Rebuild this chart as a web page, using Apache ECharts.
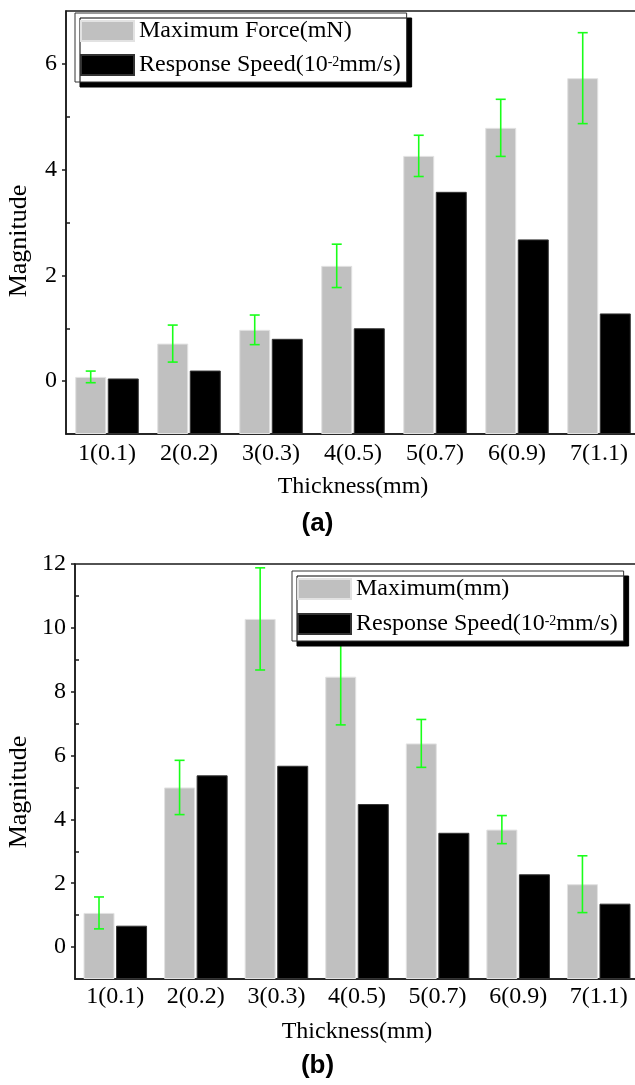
<!DOCTYPE html>
<html>
<head>
<meta charset="utf-8">
<script src="https://cdn.jsdelivr.net/npm/echarts@6.0.0/dist/echarts.min.js"></script>
<style>
  html, body { margin: 0; padding: 0; background: #fff; }
  #main { width: 635px; height: 1085px; }
</style>
</head>
<body>
<div id="main"></div>
<script>
// thickness groups, shared by both panels
var categories = ['1(0.1)', '2(0.2)', '3(0.3)', '4(0.5)', '5(0.7)', '6(0.9)', '7(1.1)'];

// panel (a)
var forceMean = [0.08, 0.71, 0.97, 2.18, 4.26, 4.79, 5.73];
var forceErr = [0.11, 0.35, 0.28, 0.41, 0.39, 0.54, 0.86];
var speedA = [0.05, 0.2, 0.8, 1.0, 3.58, 2.68, 1.28];
var ticksA = [0, 2, 4, 6];
var minorTicksA = [1, 3, 5];

// panel (b)
var dispMean = [1.07, 5.0, 10.28, 8.47, 6.38, 3.68, 1.97];
var dispErr = [0.5, 0.85, 1.6, 1.51, 0.75, 0.44, 0.89];
var speedB = [0.67, 5.38, 5.68, 4.48, 3.58, 2.28, 1.36];
var ticksB = [0, 2, 4, 6, 8, 10, 12];
var minorTicksB = [1, 3, 5, 7, 9, 11];

var SERIF = 'Liberation Serif';
var FS = 24;
var AXIS_COLOR = '#1a1a1a';
var GRAY = '#c0c0c0';
var GREEN = '#19ff19';
var BAR_W = 31;
var BAR_GAP = 0.05;

function errData(mean, err) {
    var out = [];
    for (var i = 0; i < mean.length; i++) {
        out.push([i, mean[i] - err[i], mean[i] + err[i]]);
    }
    return out;
}

function renderErr(params, api) {
    var x = api.value(0);
    var lo = api.coord([x, api.value(1)]);
    var hi = api.coord([x, api.value(2)]);
    var dx = -(BAR_W + BAR_W * BAR_GAP) / 2;
    var cx = lo[0] + dx;
    var cap = 5;
    var st = {stroke: GREEN, lineWidth: 1.6};
    return {
        type: 'group',
        children: [
            {type: 'line', shape: {x1: cx, y1: lo[1], x2: cx, y2: hi[1]}, style: st},
            {type: 'line', shape: {x1: cx - cap, y1: lo[1], x2: cx + cap, y2: lo[1]}, style: st},
            {type: 'line', shape: {x1: cx - cap, y1: hi[1], x2: cx + cap, y2: hi[1]}, style: st}
        ]
    };
}

function legendFmt(name) {
    if (name.indexOf('Response') === 0) {
        return '{t|Response Speed(10}{s|-2}{t|mm/s)}';
    }
    return '{t|' + name + '}';
}

var legendText = {
    fontFamily: SERIF,
    fontSize: FS,
    color: '#000',
    rich: {
        t: {fontFamily: SERIF, fontSize: FS, lineHeight: 20, color: '#000'},
        s: {fontFamily: SERIF, fontSize: 14, lineHeight: 20, color: '#000', verticalAlign: 'top', padding: [0, 0, 8, 0]}
    }
};

function makeLegend(names, left, top, gap) {
    return {
        data: names,
        orient: 'vertical',
        left: left,
        top: top,
        itemWidth: 53,
        itemHeight: 20,
        itemGap: gap,
        padding: [6, 6, 5, 5],
        selectedMode: false,
        backgroundColor: '#fff',
        borderColor: '#333',
        borderWidth: 1,
        shadowColor: '#000',
        shadowBlur: 0,
        shadowOffsetX: 5,
        shadowOffsetY: 5,
        formatter: legendFmt,
        textStyle: legendText,
        icon: 'rect'
    };
}

function yAxes(gridIdx, min, max, major, minor) {
    return [{
        type: 'value',
        gridIndex: gridIdx,
        min: min,
        max: max,
        startValue: min,
        axisLine: {show: true, lineStyle: {color: AXIS_COLOR, width: 1.5}},
        axisTick: {show: true, customValues: major, length: 4, lineStyle: {color: AXIS_COLOR, width: 1.5}},
        axisLabel: {customValues: major, margin: 9, fontFamily: SERIF, fontSize: FS, color: '#000'},
        splitLine: {show: false}
    }, {
        type: 'value',
        gridIndex: gridIdx,
        min: min,
        max: max,
        position: 'left',
        axisLine: {show: false},
        axisTick: {show: true, inside: true, customValues: minor, length: 4, lineStyle: {color: AXIS_COLOR, width: 1.5}},
        axisLabel: {show: false},
        splitLine: {show: false}
    }];
}

function xAxis(gridIdx, labelMargin) {
    return {
        type: 'category',
        gridIndex: gridIdx,
        data: categories,
        name: 'Thickness(mm)',
        nameLocation: 'middle',
        nameGap: 41,
        nameTextStyle: {fontFamily: SERIF, fontSize: FS, color: '#000'},
        axisLine: {show: true, onZero: false, lineStyle: {color: AXIS_COLOR, width: 1.5}},
        axisTick: {show: false},
        axisLabel: {margin: labelMargin, fontFamily: SERIF, fontSize: FS, color: '#000', interval: 0}
    };
}

function bars(name, data, gridIdx, color, border) {
    return {
        name: name,
        type: 'bar',
        xAxisIndex: gridIdx,
        yAxisIndex: gridIdx * 2,
        data: data,
        barWidth: BAR_W,
        barGap: (BAR_GAP * 100) + '%',
        itemStyle: {color: color, borderColor: border, borderWidth: 1},
        emphasis: {disabled: true}
    };
}

var speedName = 'Response Speed(10-2mm/s)';

var chart = echarts.init(document.getElementById('main'), null, {renderer: 'canvas'});
chart.setOption({
    animation: false,
    backgroundColor: '#fff',
    title: [
        {text: '(a)', left: 'center', top: 506, textStyle: {fontFamily: 'Liberation Sans', fontWeight: 'bold', fontSize: 26, color: '#000'}},
        {text: '(b)', left: 'center', top: 1048, textStyle: {fontFamily: 'Liberation Sans', fontWeight: 'bold', fontSize: 26, color: '#000'}}
    ],
    grid: [
        {left: 66, top: 11, width: 574, height: 423, outerBoundsMode: 'none', show: true, borderColor: AXIS_COLOR, borderWidth: 1.5},
        {left: 75, top: 564, width: 564, height: 415, outerBoundsMode: 'none', show: true, borderColor: AXIS_COLOR, borderWidth: 1.5}
    ],
    legend: [
        makeLegend(['Maximum Force(mN)', speedName], 75, 13, 10),
        makeLegend(['Maximum(mm)', speedName], 292, 571, 11)
    ],
    xAxis: [xAxis(0, 8), xAxis(1, 6)],
    yAxis: yAxes(0, -1, 7, ticksA, minorTicksA).concat(yAxes(1, -1, 12, ticksB, minorTicksB)),
    graphic: [
        {type: 'text', x: 19, y: 241, rotation: Math.PI / 2,
         style: {text: 'Magnitude', font: '26px "Liberation Serif"', fill: '#000', align: 'center', verticalAlign: 'middle'}},
        {type: 'text', x: 19, y: 792, rotation: Math.PI / 2,
         style: {text: 'Magnitude', font: '26px "Liberation Serif"', fill: '#000', align: 'center', verticalAlign: 'middle'}}
    ],
    series: [
        bars('Maximum Force(mN)', forceMean, 0, GRAY, '#e2e2e2'),
        bars(speedName, speedA, 0, '#000', '#333'),
        {type: 'custom', xAxisIndex: 0, yAxisIndex: 0, data: errData(forceMean, forceErr), renderItem: renderErr, z: 3},
        bars('Maximum(mm)', dispMean, 1, GRAY, '#e2e2e2'),
        bars(speedName, speedB, 1, '#000', '#333'),
        {type: 'custom', xAxisIndex: 1, yAxisIndex: 2, data: errData(dispMean, dispErr), renderItem: renderErr, z: 3}
    ]
});
</script>
</body>
</html>
